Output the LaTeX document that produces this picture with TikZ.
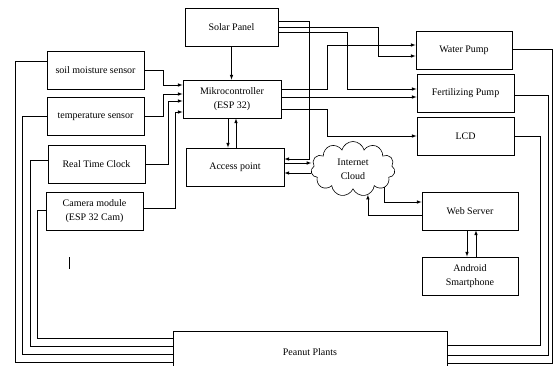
\documentclass[tikz,border=0pt]{standalone}
\usepackage{fontspec}
\setmainfont{Liberation Serif}
\usetikzlibrary{shapes.symbols}

\begin{document}
\begin{tikzpicture}[x=1pt,y=-1pt,
    blk/.style={draw,line width=0.9pt,minimum width=97pt,minimum height=38pt,
                align=center,inner sep=2pt,font=\fontsize{10}{14}\selectfont},
    wire/.style={draw,line width=0.6pt},
    link/.style={->,>=latex,draw,line width=0.6pt},
  ]
    \useasboundingbox (0,0) rectangle (553,365);

    % Blocks
    \node[blk,minimum width=93pt] (solar) at (231.5,27)  {Solar Panel};
    \node[blk,minimum width=98pt] (mcu)   at (232,99)    {Mikrocontroller\\(ESP 32)};
    \node[blk,minimum width=98pt] (ap)    at (235,167)   {Access point};
    \node[blk] (soil)  at (95.5,70)    {soil moisture sensor};
    \node[blk] (temp)  at (95.5,116.5) {temperature sensor};
    \node[blk] (rtc)   at (96.5,164)   {Real Time Clock};
    \node[blk] (cam)   at (94.5,211.5) {Camera module\\(ESP 32 Cam)};
    \node[blk,minimum width=96pt] (wp)    at (464,50)    {Water Pump};
    \node[blk] (fp)    at (465.5,93)   {Fertilizing Pump};
    \node[blk] (lcd)   at (465.5,136)  {LCD};
    \node[blk,minimum width=96pt] (ws)    at (470,211)   {Web Server};
    \node[blk,minimum width=96pt] (phone) at (470,276)   {Android\\Smartphone};
    \node[blk,minimum width=274pt,minimum height=42pt] (plant) at (310,352) {Peanut Plants};
    \node[cloud,draw,line width=0.6pt,cloud puffs=11,aspect=1.6,
          minimum width=84pt,minimum height=55pt,align=center,inner sep=0pt,
          font=\fontsize{10}{14}\selectfont] (cloud) at (353,169) {Internet\\Cloud};

    % Solar panel
    \draw[link] (solar.south) -- (solar.south |- mcu.north);
    \draw[link] ([yshift=6pt]solar.east) -| (309,159) -- ([yshift=8pt]ap.east);
    \draw[link] (solar.east) -| (378,56) -- ([yshift=-6pt]wp.west);
    \draw[link] ([yshift=-5pt]solar.east) -| (347,89) -- ([yshift=4pt]fp.west);

    % Sensors to controller
    \draw[link] (soil.east) -| (163,85) -- ([yshift=14pt]mcu.west);
    \draw[link] (temp.east) -| (163,94) -- ([yshift=5pt]mcu.west);
    \draw[link] (rtc.east) -| (168,101) -- ([yshift=-2pt]mcu.west);
    \draw[link] ([yshift=3pt]cam.east) -| (175,112) -- ([yshift=-13pt]mcu.west);

    % Controller outputs
    \draw[link] ([yshift=10pt]mcu.east) -| (327,45) -- ([yshift=5pt]wp.west);
    \draw[link] ([yshift=2pt]mcu.east) -- ([yshift=2pt]mcu.east -| fp.west);
    \draw[link] ([yshift=-10pt]mcu.east) -| (327,136) -- (lcd.west);
    \draw[link] ([xshift=-4pt]mcu.south) -- ([xshift=-4pt]mcu.south |- ap.north);
    \draw[link] ([xshift=4pt]mcu.south |- ap.north) -- ([xshift=4pt]mcu.south);

    % Network
    \draw[link] ([yshift=4pt]ap.east) -- ([yshift=4pt]ap.east -| cloud.west);
    \draw[link] ([yshift=-6pt]ap.east -| cloud.west) -- ([yshift=-6pt]ap.east);
    \draw[link] (cloud.330) |- ([yshift=9pt]ws.west);
    \draw[link] ([yshift=-4pt]ws.west) -| (cloud.300);
    \draw[link] ([xshift=-3pt]ws.south) -- ([xshift=-3pt]ws.south |- phone.north);
    \draw[link] ([xshift=6pt]ws.south |- phone.north) -- ([xshift=6pt]ws.south);

    % Plants
    \draw[wire] ([yshift=9pt]soil.west) -| (15,362) -- ([yshift=-10pt]plant.west);
    \draw[wire] (temp.west) -| (22,354) -- ([yshift=-2pt]plant.west);
    \draw[wire] ([yshift=4pt]rtc.west) -| (30,346) -- ([yshift=6pt]plant.west);
    \draw[wire] ([yshift=1.5pt]cam.west) -| (37,338) -- ([yshift=14pt]plant.west);
    \draw[wire] ([yshift=1pt]wp.east) -| (552.5,363) -- ([yshift=-11pt]plant.east);
    \draw[wire] ([yshift=-2pt]fp.east) -| (548,355) -- ([yshift=-3pt]plant.east);
    \draw[wire] (lcd.east) -| (540,345) -- ([yshift=7pt]plant.east);

    \draw[wire] (69,257) -- (69,269);

\end{tikzpicture}
\end{document}
